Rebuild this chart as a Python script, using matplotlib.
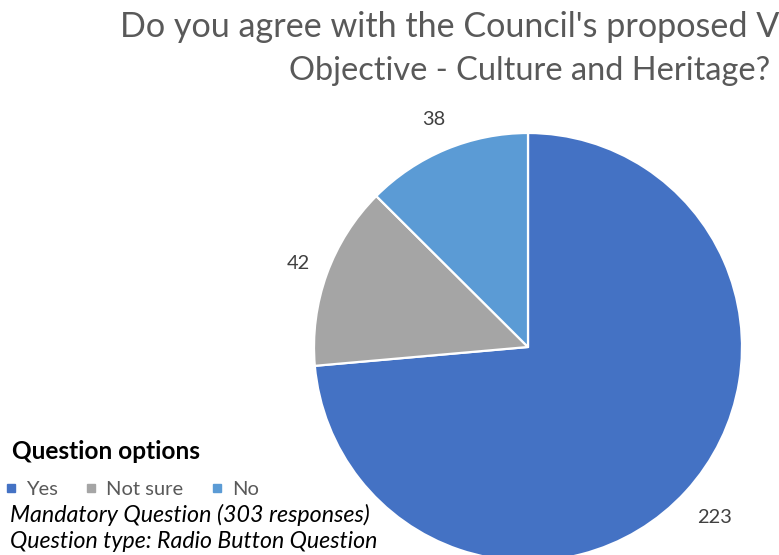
import matplotlib.pyplot as plt
from matplotlib.lines import Line2D
import numpy as np

plt.rcParams['font.family'] = ['Lato', 'DejaVu Sans']

# survey answers
options = ['Yes', 'Not sure', 'No']
counts = [223, 42, 38]
colours = ['#4472C4', '#A5A5A5', '#5B9BD5']
label_dist = [1.18, 1.14, 1.15]

title_line1 = "Do you agree with the Council's proposed V"
title_line2 = "Objective - Culture and Heritage?"
total = sum(counts)

W, H = 779, 555
fig = plt.figure(figsize=(W / 100, H / 100), dpi=100)
renderer = fig.canvas.get_renderer()


def fit(txt, width_px):
    # scale font so the text spans the given width in pixels
    w = txt.get_window_extent(renderer).width
    txt.set_fontsize(txt.get_fontsize() * width_px / w)
    return txt


def px(x, y):
    return x / W, 1 - y / H


# pie: centre (528, 347), radius 214 px
cx, cy, r = 528, 347, 214
ax = fig.add_axes([(cx - r) / W, (H - cy - r) / H, 2 * r / W, 2 * r / H])
wedges, _ = ax.pie(counts, colors=colours, startangle=90, counterclock=False,
                   radius=1, wedgeprops=dict(edgecolor='white', linewidth=1.6))
ax.set_xlim(-1, 1)
ax.set_ylim(-1, 1)
ax.set_aspect('equal')
ax.axis('off')

labels = []
for w, n, d in zip(wedges, counts, label_dist):
    mid = np.deg2rad((w.theta1 + w.theta2) / 2)
    t = ax.text(d * np.cos(mid), d * np.sin(mid), str(n), ha='center', va='center',
                color='#404040', fontsize=15, clip_on=False)
    labels.append(t)
fit(labels[0], 35)
for t in labels[1:]:
    t.set_fontsize(labels[0].get_fontsize())

# title, second line centred over the pie
t1 = fig.text(*px(120, 37), title_line1, ha='left', va='baseline', color='#595959', fontsize=22)
fit(t1, 657)
t2 = fig.text(*px(cx + 2, 80), title_line2, ha='center', va='baseline', color='#595959',
              fontsize=t1.get_fontsize())
fit(t2, 482)

# legend block
head = fig.text(*px(12, 459), 'Question options', ha='left', va='baseline',
                fontweight='bold', color='black', fontsize=14)
fit(head, 188)

handles = [Line2D([], [], marker='s', linestyle='none', markersize=6,
                  markerfacecolor=c, markeredgecolor=c) for c in colours]
leg = fig.legend(handles, options, loc='center left', bbox_to_anchor=px(4, 489),
                 ncol=3, frameon=False, fontsize=14.5, handlelength=0.7,
                 handletextpad=0.4, columnspacing=1.3, borderpad=0, borderaxespad=0)
for t in leg.get_texts():
    t.set_color('#595959')

m1 = fig.text(*px(10, 522), f'Mandatory Question ({total} responses)', ha='left',
              va='baseline', style='italic', color='black', fontsize=13)
fit(m1, 358)
m2 = fig.text(*px(10, 548), 'Question type: Radio Button Question', ha='left',
              va='baseline', style='italic', color='black', fontsize=13)
fit(m2, 365)

fig.savefig('out.png', dpi=100)
